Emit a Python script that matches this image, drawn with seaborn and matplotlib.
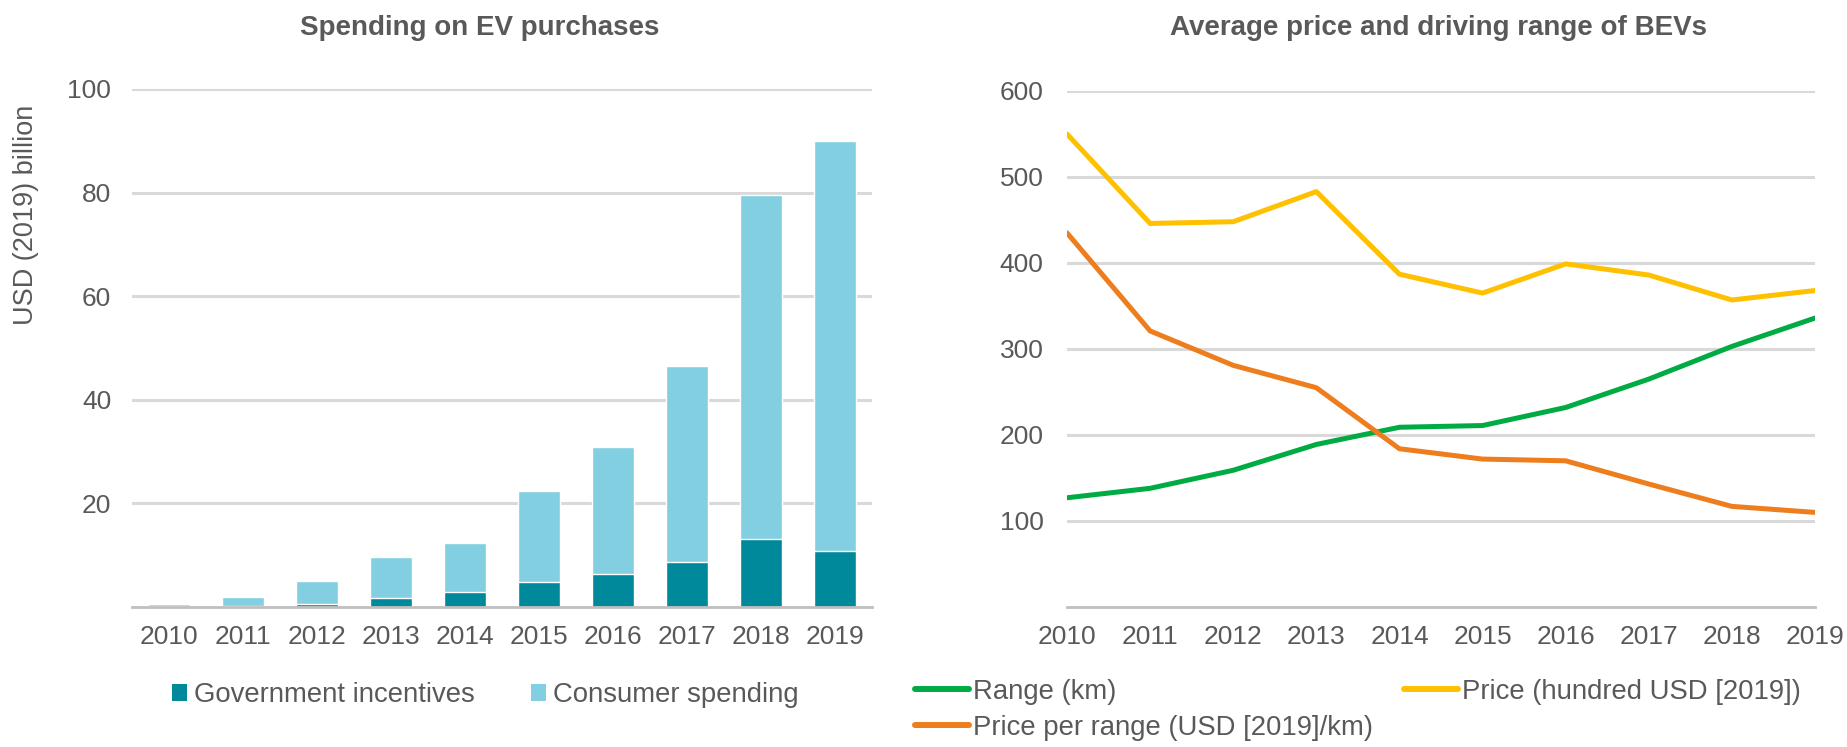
import numpy as np
import pandas as pd
import matplotlib
matplotlib.use("Agg")
import matplotlib.pyplot as plt
from matplotlib.patches import Patch
from matplotlib.lines import Line2D
import seaborn as sns

# data
years = [2010, 2011, 2012, 2013, 2014, 2015, 2016, 2017, 2018, 2019]
gov_incentives = [0.1, 0.2, 0.65, 1.8, 2.85, 4.8, 6.4, 8.7, 13.2, 10.9]
consumer_spending = [0.4, 1.8, 4.45, 7.8, 9.45, 17.5, 24.5, 37.8, 66.4, 79.0]

range_km = [127, 138, 159, 189, 209, 211, 232, 265, 303, 336]
price_hundred_usd = [550, 446, 448, 483, 387, 365, 399, 386, 357, 368]
price_per_range = [435, 321, 281, 255, 184, 172, 170, 143, 117, 110]

GOV_COL = "#00889B"
CONS_COL = "#82CFE1"
GREEN = "#00AB44"
YELLOW = "#FFC000"
ORANGE = "#EE7D1E"
TXT = "#595959"
GRID = "#D9D9D9"
AXIS = "#BFBFBF"

sns.set_theme(style="white")
plt.rcParams["font.family"] = ["Liberation Sans", "DejaVu Sans"]
plt.rcParams["text.color"] = TXT
plt.rcParams["axes.labelcolor"] = TXT
plt.rcParams["xtick.color"] = TXT
plt.rcParams["ytick.color"] = TXT

FS = 19        # tick labels
LFS = 19.8     # legends
TFS = 20       # titles
W, H = 1847, 747
fig = plt.figure(figsize=(W / 100, H / 100), dpi=100)


def px_axes(left, right, top, bottom):
    return fig.add_axes([left / W, 1 - bottom / H, (right - left) / W, (bottom - top) / H])


# ---- left: stacked bars
ax1 = px_axes(132, 872, 89, 607)
df = pd.DataFrame({"year": [str(y) for y in years],
                   "gov": gov_incentives, "cons": consumer_spending})
df["total"] = df["gov"] + df["cons"]
sns.barplot(data=df, x="year", y="total", color=CONS_COL, width=0.57,
            saturation=1, ax=ax1, zorder=3)
sns.barplot(data=df, x="year", y="gov", color=GOV_COL, width=0.57,
            saturation=1, ax=ax1, zorder=4)
ax1.set_ylim(0, 100)
ax1.set_xlim(-0.5, 9.5)
ax1.set_yticks([20, 40, 60, 80, 100])
ax1.yaxis.grid(True, color=GRID, linewidth=2.2, zorder=0)
ax1.set_axisbelow(True)
ax1.set_xlabel("")
ax1.set_ylabel("")
for s in ["top", "right", "left"]:
    ax1.spines[s].set_visible(False)
ax1.spines["bottom"].set_color(AXIS)
ax1.spines["bottom"].set_linewidth(2)
ax1.spines["bottom"].set_zorder(5)
ax1.set_xticks([-0.5, 9.5], minor=True)
ax1.tick_params(axis="x", which="minor", length=6, width=2, color=AXIS, direction="out")
ax1.tick_params(axis="x", which="major", length=0, pad=13, labelsize=FS)
ax1.tick_params(axis="y", length=0, pad=15, labelsize=FS)

fig.text(26 / W, 1 - 215 / H, "USD (2019) billion", rotation=90, ha="center",
         va="center", fontsize=19.5)
fig.text(480 / W, 1 - 28 / H, "Spending on EV purchases", ha="center", va="center",
         fontsize=TFS, fontweight="bold")

h_left = [Patch(facecolor=GOV_COL, edgecolor="none", label="Government incentives"),
          Patch(facecolor=CONS_COL, edgecolor="none", label="Consumer spending")]
fig.legend(handles=h_left, loc="center left", bbox_to_anchor=(172 / W, 1 - 695 / H),
           ncol=2, frameon=False, fontsize=LFS, borderpad=0, borderaxespad=0,
           handlelength=0.55, handleheight=0.55, handletextpad=0.25, columnspacing=2.05)

# ---- right: lines
ax2 = px_axes(1067, 1815, 91, 607)
ldf = pd.DataFrame({"year": years, "range": range_km,
                    "price": price_hundred_usd, "ppr": price_per_range})
sns.lineplot(data=ldf, x="year", y="range", color=GREEN, linewidth=3.6, ax=ax2, zorder=3)
sns.lineplot(data=ldf, x="year", y="price", color=YELLOW, linewidth=3.6, ax=ax2, zorder=3)
sns.lineplot(data=ldf, x="year", y="ppr", color=ORANGE, linewidth=3.6, ax=ax2, zorder=4)
ax2.set_xlim(2010, 2019)
ax2.set_ylim(0, 600)
ax2.set_yticks([100, 200, 300, 400, 500, 600])
ax2.set_xticks(years)
ax2.yaxis.grid(True, color=GRID, linewidth=2.2, zorder=0)
ax2.set_axisbelow(True)
ax2.set_xlabel("")
ax2.set_ylabel("")
for s in ["top", "right", "left"]:
    ax2.spines[s].set_visible(False)
ax2.spines["bottom"].set_color(AXIS)
ax2.spines["bottom"].set_linewidth(2)
ax2.tick_params(axis="x", length=6, width=2, color=AXIS, direction="out", pad=7,
                labelsize=FS)
ax2.tick_params(axis="y", length=0, pad=17, labelsize=FS)

fig.text(1439 / W, 1 - 28 / H, "Average price and driving range of BEVs", ha="center",
         va="center", fontsize=TFS, fontweight="bold")

h_right = [Line2D([], [], color=GREEN, linewidth=4.3, solid_capstyle="round", label="Range (km)"),
           Line2D([], [], color=ORANGE, linewidth=4.3, solid_capstyle="round",
                  label="Price per range (USD [2019]/km)"),
           Line2D([], [], color=YELLOW, linewidth=4.3, solid_capstyle="round",
                  label="Price (hundred USD [2019])")]
fig.legend(handles=h_right, loc="upper left", bbox_to_anchor=(915 / W, 1 - 679 / H),
           ncol=2, frameon=False, fontsize=LFS, borderpad=0, borderaxespad=0,
           handlelength=1.95, handletextpad=0.15, columnspacing=1.15, labelspacing=0.35)

fig.savefig("out.png", dpi=100)
